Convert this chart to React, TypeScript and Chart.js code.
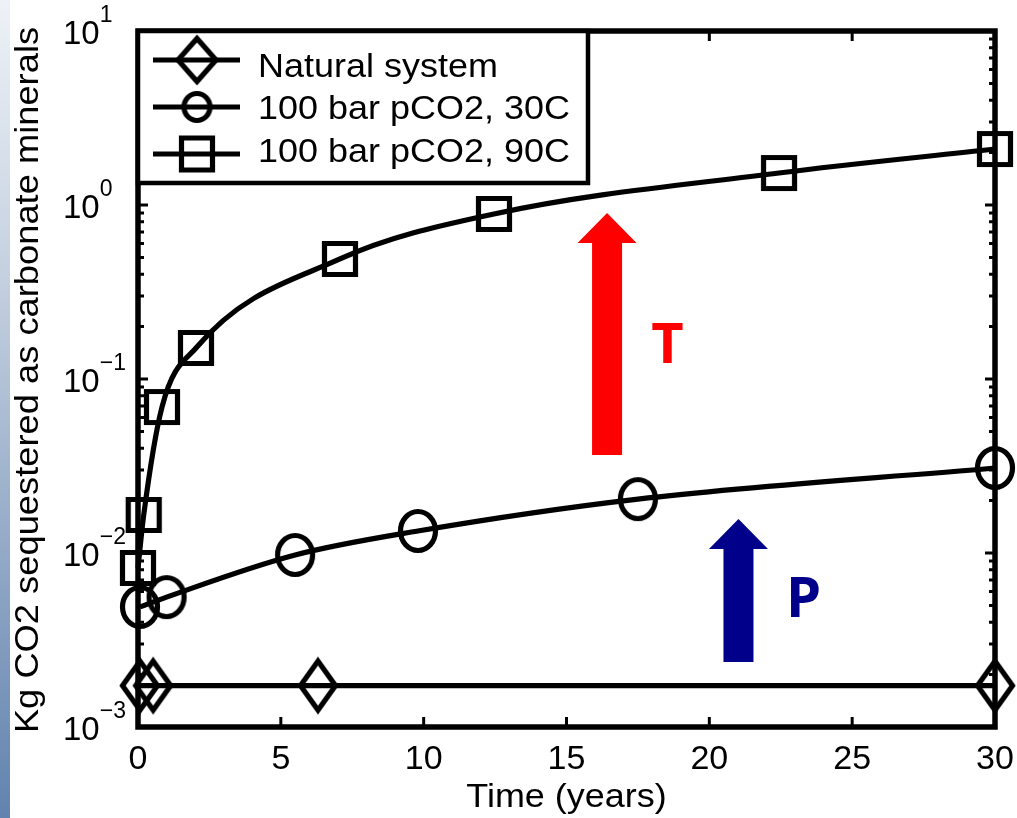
import React, { useEffect, useRef } from "react";
import { Chart, registerables } from "chart.js";

Chart.register(...registerables);

// ---------- data ----------
const seriesLabels = ["Natural system", "100 bar pCO2, 30C", "100 bar pCO2, 90C"];
const naturalTime = [0.07, 0.53, 6.3, 30];
const naturalValues = [0.00173, 0.00173, 0.00173, 0.00173];
const time30C = [0.07, 1.0, 5.5, 9.8, 17.5, 30];
const values30C = [0.0049, 0.00558, 0.00974, 0.01338, 0.0204, 0.0308];
const time90C = [0.0, 0.2, 0.84, 2.03, 7.07, 12.46, 22.44, 30];
const values90C = [0.0082, 0.01654, 0.069, 0.1508, 0.4895, 0.888, 1.527, 2.098];
const xTickValues = [0, 5, 10, 15, 20, 25, 30];
const yDecadeExponents = [-3, -2, -1, 0, 1];
const xTitle = "Time (years)";
const yTitle = "Kg CO2 sequestered as carbonate minerals";
// annotations (data coordinates)
const tempArrow = { x: 16.42, from: 0.0366, to: 0.899, color: "#ff0000" };
const pressArrow = { x: 21.02, from: 0.00236, to: 0.01568, color: "#00008b" };
const tempLabel = { x: 18.53, y: 0.1236, text: "T", color: "#ff0000" };
const pressLabel = { x: 23.3, y: 0.00429, text: "P", color: "#00008b" };

const FONT = '"Liberation Sans", Arial, Helvetica, sans-serif';
const LW = 5.2;

function makeMarker(kind: string, w: number, h: number, lw: number) {
  const c = document.createElement("canvas");
  c.width = Math.ceil(w + lw * 2 + 2);
  c.height = Math.ceil(h + lw * 2 + 2);
  const ctx = c.getContext("2d")!;
  ctx.strokeStyle = "#000";
  ctx.lineWidth = lw;
  const cx = c.width / 2;
  const cy = c.height / 2;
  ctx.beginPath();
  if (kind === "diamond") {
    ctx.moveTo(cx, cy - h / 2);
    ctx.lineTo(cx + w / 2, cy);
    ctx.lineTo(cx, cy + h / 2);
    ctx.lineTo(cx - w / 2, cy);
    ctx.closePath();
  } else if (kind === "circle") {
    ctx.ellipse(cx, cy, w / 2, h / 2, 0, 0, Math.PI * 2);
  } else {
    ctx.rect(cx - w / 2, cy - h / 2, w, h);
  }
  ctx.stroke();
  return c;
}

function txt(
  ctx: CanvasRenderingContext2D,
  s: string,
  x: number,
  y: number,
  font: string,
  align: CanvasTextAlign,
  sx = 1,
  color = "#000",
  rot = 0
) {
  ctx.save();
  ctx.translate(x, y);
  if (rot) ctx.rotate(rot);
  ctx.scale(sx, 1);
  ctx.font = font;
  ctx.textAlign = align;
  ctx.textBaseline = "alphabetic";
  ctx.fillStyle = color;
  ctx.fillText(s, 0, 0);
  ctx.restore();
}

function drawArrow(ctx: CanvasRenderingContext2D, x: number, yb: number, yt: number, color: string) {
  const shaftW = 30;
  const headW = 59;
  const headL = 30;
  ctx.save();
  ctx.fillStyle = color;
  ctx.beginPath();
  ctx.moveTo(x - shaftW / 2, yb);
  ctx.lineTo(x - shaftW / 2, yt + headL);
  ctx.lineTo(x - headW / 2, yt + headL);
  ctx.lineTo(x, yt);
  ctx.lineTo(x + headW / 2, yt + headL);
  ctx.lineTo(x + shaftW / 2, yt + headL);
  ctx.lineTo(x + shaftW / 2, yb);
  ctx.closePath();
  ctx.fill();
  ctx.restore();
}

export default function App() {
  const ref = useRef<HTMLCanvasElement | null>(null);

  useEffect(() => {
    if (!ref.current) return;
    const diamond = makeMarker("diamond", 35, 49, LW);
    const circle = makeMarker("circle", 35, 39, LW);
    const square = makeMarker("square", 31, 31, LW);
    const legDiamond = makeMarker("diamond", 38, 43, LW);
    const legCircle = makeMarker("circle", 26, 27, LW);
    const legSquare = makeMarker("square", 31, 32, LW);

    const decorPlugin = {
      id: "decor",
      beforeDraw(chart: any) {
        const ctx = chart.ctx as CanvasRenderingContext2D;
        ctx.save();
        ctx.fillStyle = "#ffffff";
        ctx.fillRect(0, 0, chart.width, chart.height);
        const g = ctx.createLinearGradient(0, 0, 0, chart.height);
        g.addColorStop(0, "#eef2f7");
        g.addColorStop(0.35, "#c3cfdf");
        g.addColorStop(1, "#6283ae");
        ctx.fillStyle = g;
        ctx.fillRect(0, 0, 10, chart.height);
        ctx.restore();
      },
      beforeDatasetsDraw(chart: any) {
        const ctx = chart.ctx as CanvasRenderingContext2D;
        const xs = chart.scales.x;
        const ys = chart.scales.y;
        for (const a of [tempArrow, pressArrow]) {
          drawArrow(ctx, xs.getPixelForValue(a.x), ys.getPixelForValue(a.from), ys.getPixelForValue(a.to), a.color);
        }
        for (const l of [tempLabel, pressLabel]) {
          txt(ctx, l.text, xs.getPixelForValue(l.x), ys.getPixelForValue(l.y), 'bold 56px "Open Sans", sans-serif', "center", 1, l.color);
        }
      },
      afterDatasetsDraw(chart: any) {
        const ctx = chart.ctx as CanvasRenderingContext2D;
        const xs = chart.scales.x;
        const ys = chart.scales.y;
        const { left, right, top, bottom } = chart.chartArea;
        ctx.save();
        ctx.strokeStyle = "#000";
        // ticks
        ctx.lineWidth = 3;
        ctx.beginPath();
        for (const v of xTickValues) {
          const px = xs.getPixelForValue(v);
          ctx.moveTo(px, bottom);
          ctx.lineTo(px, bottom - 10);
          ctx.moveTo(px, top);
          ctx.lineTo(px, top + 10);
        }
        for (const e of yDecadeExponents) {
          const py = ys.getPixelForValue(Math.pow(10, e));
          ctx.moveTo(left, py);
          ctx.lineTo(left + 10, py);
          ctx.moveTo(right, py);
          ctx.lineTo(right - 10, py);
          if (e < 1) {
            for (let k = 2; k <= 9; k++) {
              const pm = ys.getPixelForValue(k * Math.pow(10, e));
              ctx.moveTo(left, pm);
              ctx.lineTo(left + 6, pm);
              ctx.moveTo(right, pm);
              ctx.lineTo(right - 6, pm);
            }
          }
        }
        ctx.stroke();
        // frame
        ctx.lineWidth = 5.5;
        ctx.strokeRect(left, top, right - left, bottom - top);
        ctx.restore();

        // x tick labels
        for (const v of xTickValues) {
          txt(ctx, String(v), xs.getPixelForValue(v), 769, `34px ${FONT}`, "center");
        }
        // y tick labels with superscripts
        for (const e of yDecadeExponents) {
          const py = ys.getPixelForValue(Math.pow(10, e));
          const base = py + 13;
          ctx.save();
          ctx.font = `33px ${FONT}`;
          const w = ctx.measureText("10").width;
          ctx.restore();
          txt(ctx, "10", 63, base, `33px ${FONT}`, "left");
          const sup = e < 0 ? "\u2212" + Math.abs(e) : String(e);
          txt(ctx, sup, 63 + w, base - 22, `23px ${FONT}`, "left");
        }
        // axis titles
        txt(ctx, xTitle, (left + right) / 2, 807, `33px ${FONT}`, "center", 1.09);
        txt(ctx, yTitle, 38, 380, `33px ${FONT}`, "center", 1.1, "#000", -Math.PI / 2);

        // legend
        ctx.save();
        ctx.fillStyle = "#fff";
        ctx.fillRect(left, top, 588 - left, 183 - top);
        ctx.strokeStyle = "#000";
        ctx.lineWidth = 4.5;
        ctx.strokeRect(left, top, 588 - left, 183 - top);
        const rows = [60, 107, 154];
        const bases = [77, 119, 162];
        const marks = [legDiamond, legCircle, legSquare];
        ctx.lineWidth = LW;
        for (let i = 0; i < 3; i++) {
          ctx.beginPath();
          ctx.moveTo(153, rows[i]);
          ctx.lineTo(240, rows[i]);
          ctx.stroke();
          const m = marks[i];
          ctx.drawImage(m, 197 - m.width / 2, rows[i] - m.height / 2);
          txt(ctx, seriesLabels[i], 258, bases[i], `33px ${FONT}`, "left", 1.09);
        }
        ctx.restore();
      },
    };

    const mk = (t: number[], v: number[]) => t.map((x, i) => ({ x, y: v[i] }));

    const chart = new Chart(ref.current, {
      type: "line",
      data: {
        datasets: [
          {
            label: seriesLabels[0],
            data: mk(naturalTime, naturalValues),
            borderColor: "#000",
            borderWidth: LW,
            pointStyle: diamond as any,
            pointRadius: 20,
            clip: false as any,
          },
          {
            label: seriesLabels[1],
            data: mk(time30C, values30C),
            borderColor: "#000",
            borderWidth: LW,
            pointStyle: circle as any,
            pointRadius: 20,
            cubicInterpolationMode: "monotone",
            clip: false as any,
          },
          {
            label: seriesLabels[2],
            data: mk(time90C, values90C),
            borderColor: "#000",
            borderWidth: LW,
            pointStyle: square as any,
            pointRadius: 20,
            cubicInterpolationMode: "monotone",
            clip: false as any,
          },
        ],
      },
      options: {
        responsive: false,
        animation: false,
        devicePixelRatio: 1,
        layout: { autoPadding: false, padding: { top: 31, right: 22, left: 0, bottom: 0 } },
        plugins: { legend: { display: false }, tooltip: { enabled: false } },
        scales: {
          x: {
            type: "linear",
            min: 0,
            max: 30,
            ticks: { display: false, stepSize: 5 },
            grid: { display: false, drawTicks: false },
            border: { display: false },
            afterFit: (s: any) => {
              s.height = 91;
            },
          },
          y: {
            type: "logarithmic",
            min: 0.001,
            max: 10,
            ticks: { display: false },
            grid: { display: false, drawTicks: false },
            border: { display: false },
            afterFit: (s: any) => {
              s.width = 138;
            },
          },
        },
      },
      plugins: [decorPlugin],
    });
    return () => chart.destroy();
  }, []);

  return (
    <div style={{ position: "fixed", left: 0, top: 0, width: 1017, height: 818, background: "#fff" }}>
      <canvas ref={ref} width={1017} height={818} style={{ display: "block" }} />
    </div>
  );
}
